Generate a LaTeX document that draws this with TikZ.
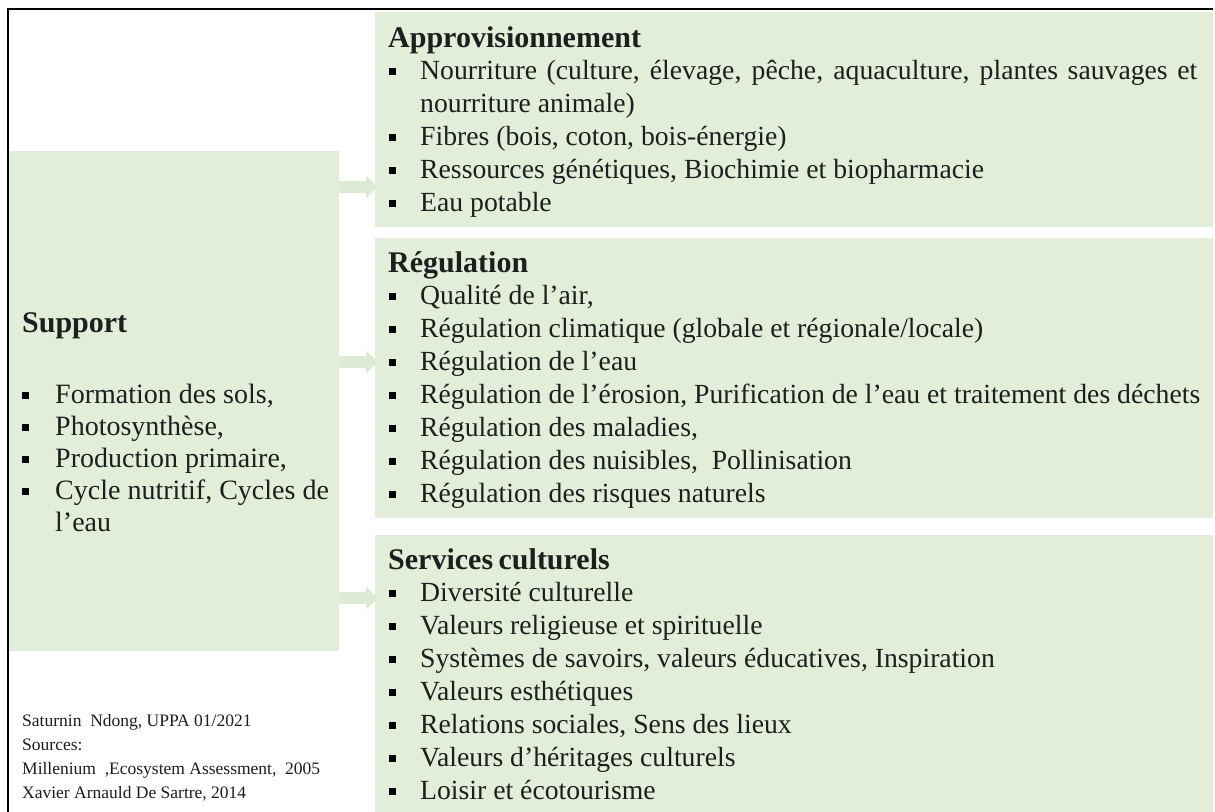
\documentclass[tikz,border=0pt]{standalone}
\usepackage{fontspec}
\setmainfont{Liberation Serif}
\usetikzlibrary{arrows.meta}
\definecolor{boxc}{HTML}{E2EEDA}
\definecolor{arrc}{HTML}{DDEBD5}
\definecolor{txtc}{HTML}{1E1E1E}
\tikzset{
  panel/.style={rectangle, fill=boxc, draw=none, inner sep=0pt, anchor=north west},
  bul/.style={rectangle, fill=black, inner sep=0pt, minimum size=7pt},
  itm/.style={anchor=base west, inner sep=0pt, text=txtc, font=\fontsize{27.7}{33}\selectfont},
  sitm/.style={anchor=base west, inner sep=0pt, text=txtc, font=\fontsize{28}{33}\selectfont},
  head/.style={anchor=base west, inner sep=0pt, text=txtc, font=\fontsize{30}{34}\selectfont\bfseries},
  cred/.style={anchor=base west, inner sep=0pt, text=txtc, font=\fontsize{17.5}{20}\selectfont},
  arr/.style={draw=arrc, line width=12pt, -{Triangle[width=22pt,length=12pt]}}
}
\newcommand\ritem[3]{%
  \node[bul] (#1b) at (392,#2) {};
  \node[itm] (#1) at (420,{#2+8}) {#3};}
\newcommand\litem[3]{%
  \node[bul] (#1b) at (25,#2) {};
  \node[sitm] (#1) at (55,{#2+8}) {#3};}
\begin{document}
\begin{tikzpicture}[x=1pt,y=-1pt]
\useasboundingbox (0,0) rectangle (1215,811);
\fill[white] (0,0) rectangle (1215,811);
% panels
\node[panel, minimum width=330pt, minimum height=500pt] (sup) at (8.5,151) {};
\node[panel, minimum width=838pt, minimum height=215pt] (app) at (375,12) {};
\node[panel, minimum width=838pt, minimum height=280pt] (reg) at (375,238) {};
\node[panel, minimum width=838pt, minimum height=277pt] (svc) at (375,535) {};
% frame
\coordinate (fbl) at (8,812);
\coordinate (ftl) at (8,9);
\coordinate (ftr) at (1213,9);
\draw[line width=1.5pt, black] (fbl) -- (ftl) -- (ftr);
% arrows
\coordinate (a1) at (0,187);
\coordinate (a2) at (0,362);
\coordinate (a3) at (0,598);
\draw[arr] (sup.east |- a1) -- ([xshift=3pt]app.west |- a1);
\draw[arr] (sup.east |- a2) -- ([xshift=3pt]reg.west |- a2);
\draw[arr] (sup.east |- a3) -- ([xshift=3pt]svc.west |- a3);
% Approvisionnement
\node[head] (apph) at (388,47) {Approvisionnement};
\ritem{ap1}{71}{\makebox[777pt][s]{Nourriture (culture, élevage, pêche, aquaculture, plantes sauvages et}}
\node[itm] (ap1b2) at (420,112) {nourriture animale)};
\ritem{ap2}{137}{Fibres (bois, coton, bois-énergie)}
\ritem{ap3}{170}{Ressources génétiques, Biochimie et biopharmacie}
\ritem{ap4}{203}{Eau potable}
% Regulation
\node[head] (regh) at (388,272) {Régulation};
\ritem{rg1}{296}{Qualité de l’air,}
\ritem{rg2}{329}{Régulation climatique (globale et régionale/locale)}
\ritem{rg3}{362}{Régulation de l’eau}
\ritem{rg4}{395}{Régulation de l’érosion, Purification de l’eau et traitement des déchets}
\ritem{rg5}{428}{Régulation des maladies,}
\ritem{rg6}{461}{Régulation des nuisibles, \ Pollinisation}
\ritem{rg7}{494}{Régulation des risques naturels}
% Services culturels
\node[head] (svch) at (388,569) {Services\kern-2pt\ culturels};
\ritem{sv1}{593}{Diversité culturelle}
\ritem{sv2}{626}{Valeurs religieuse et spirituelle}
\ritem{sv3}{659}{Systèmes de savoirs, valeurs éducatives, Inspiration}
\ritem{sv4}{692}{Valeurs esthétiques}
\ritem{sv5}{725}{Relations sociales, Sens des lieux}
\ritem{sv6}{758}{Valeurs d’héritages culturels}
\ritem{sv7}{791}{Loisir et écotourisme}
% Support
\node[head] (suph) at (22,332) {Support};
\litem{sp1}{395}{Formation des sols,}
\litem{sp2}{427}{Photosynthèse,}
\litem{sp3}{459}{Production primaire,}
\litem{sp4}{491}{Cycle nutritif, Cycles de}
\node[sitm] (sp4b2) at (55,531) {l’eau};
% credits
\node[cred] (cr1) at (22,726) {Saturnin \ Ndong, UPPA 01/2021};
\node[cred] (cr2) at (22,750) {Sources:};
\node[cred] (cr3) at (22,774) {Millenium \ ,Ecosystem Assessment, \ 2005};
\node[cred] (cr4) at (22,798) {Xavier Arnauld De Sartre, 2014};
\end{tikzpicture}
\end{document}
